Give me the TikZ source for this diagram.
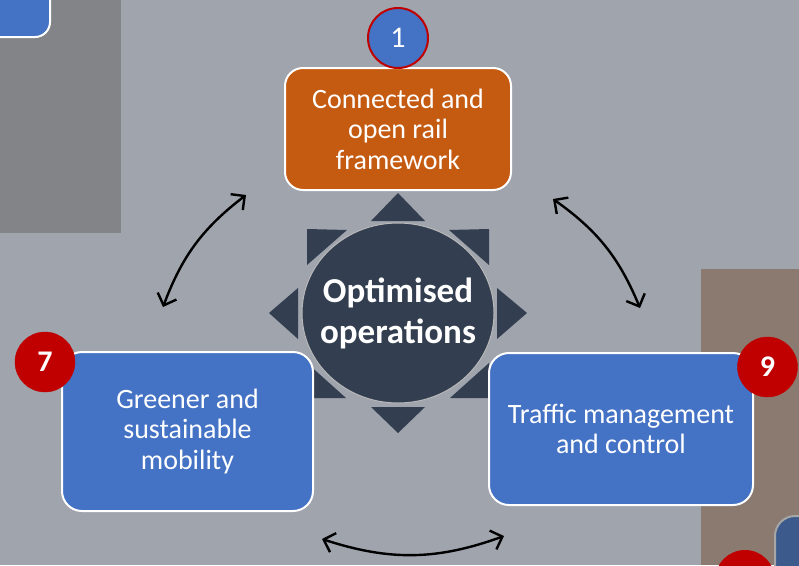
\documentclass[tikz,border=0pt]{standalone}
\usepackage{fontspec}
\setmainfont{Carlito}
\usetikzlibrary{arrows.meta}

\definecolor{slidebg}{HTML}{9FA4AD}
\definecolor{panelgray}{HTML}{838488}
\definecolor{panelbrown}{HTML}{8B7A70}
\definecolor{boxorange}{HTML}{C55A11}
\definecolor{boxblue}{HTML}{4472C4}
\definecolor{deepblue}{HTML}{3C5A8C}
\definecolor{badgered}{HTML}{C00000}
\definecolor{hubdark}{HTML}{333F50}

\begin{document}
\begin{tikzpicture}[x=1pt,y=-1pt,
  topic/.style={draw=white, line width=2pt, rounded corners=20pt, text=white, align=center,
    font=\fontsize{28}{30.5}\selectfont},
  badge/.style={circle, fill=badgered, draw=badgered, minimum size=60pt, inner sep=0pt,
    text=white, font=\fontsize{30}{30}\selectfont\bfseries},
  sun/.style={fill=hubdark},
  link/.style={<->, line width=2.4pt, >={Straight Barb[length=10pt,width=20pt]}}]
\clip (0,0) rectangle (799,565);
\fill[slidebg] (0,0) rectangle (799,565);

% neighbouring slide parts
\fill[panelgray] (0,0) rectangle (121,233);
\draw[fill=boxblue, draw=white, line width=2pt, rounded corners=15pt] (-40,-40) rectangle (50,37);
\fill[panelbrown] (701,269) rectangle (799,565);
\draw[fill=deepblue, draw=gray!70, line width=2pt, rounded corners=20pt] (775,516) rectangle (840,620);
\fill[badgered] (745,580) circle (30);

% hub with its rays
\fill[sun] (398,193) -- (425,221) -- (371,221) -- cycle;
\fill[sun] (398,433) -- (425,407) -- (371,407) -- cycle;
\fill[sun] (269,313) -- (298,288) -- (298,339) -- cycle;
\fill[sun] (527,313) -- (497,288) -- (497,339) -- cycle;
\fill[sun] (307,229) -- (347,230) -- (307,265) -- cycle;
\fill[sun] (489,229) -- (449,230) -- (489,265) -- cycle;
\fill[sun] (307,398) -- (307,363) -- (346,398) -- cycle;
\fill[sun] (489,398) -- (489,363) -- (450,398) -- cycle;
\draw[fill=hubdark, draw=gray!55, line width=1pt] (398,313) ellipse [x radius=96, y radius=90];
\node[text=white, align=center, font=\fontsize{35}{41}\selectfont\bfseries] (optim) at (398,313)
  {Optimised\\operations};

% topics
\node[topic, fill=boxorange, minimum width=226pt, minimum height=122pt, rounded corners=18pt]
  (framework) at (398,129) {Connected and\\open rail\\framework};
\node[topic, fill=boxblue, minimum width=251pt, minimum height=159pt] (greener) at (187.5,431.5)
  {Greener and\\sustainable\\mobility};
\node[topic, fill=boxblue, minimum width=264pt, minimum height=152pt] (traffic) at (621,429)
  {Traffic management\\and control};

% numbers
\node[badge, fill=boxblue, line width=2pt, font=\fontsize{30}{30}\selectfont] (n1) at (398,38) {1};
\node[badge] (n7) at (45,362) {7};
\node[badge] (n9) at (767.5,367) {9};

% links
\coordinate (l1) at (163,307);
\coordinate (l2) at (246,195);
\coordinate (r1) at (553,199);
\coordinate (r2) at (640,308);
\coordinate (b1) at (322,539);
\coordinate (b2) at (504,536);
\draw[link] (l1) to[bend left=16] (l2);
\draw[link] (r1) to[bend left=16] (r2);
\draw[link] (b1) to[bend right=19] (b2);
\end{tikzpicture}
\end{document}
